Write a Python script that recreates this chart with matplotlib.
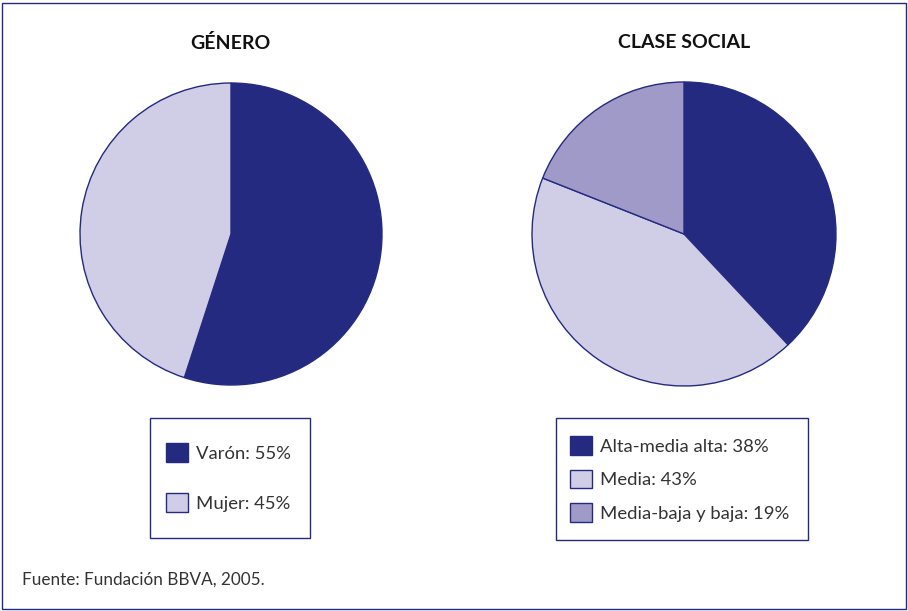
import matplotlib.pyplot as plt
from matplotlib.patches import Rectangle

plt.rcParams['font.family'] = ['Lato', 'DejaVu Sans']

# data
genero_labels = ['Varón', 'Mujer']
genero_values = [55, 45]
clase_labels = ['Alta-media alta', 'Media', 'Media-baja y baja']
clase_values = [38, 43, 19]

navy = '#232a80'
light = '#d0cde6'
mid = '#9f9ac8'
txt = '#333333'

W, H = 908, 611
fig = plt.figure(figsize=(W / 100, H / 100), dpi=100)


def px_axes(cx, cy, r):
    return fig.add_axes([(cx - r) / W, 1 - (cy + r) / H, 2 * r / W, 2 * r / H])


def px_box(x0, y0, x1, y1):
    fig.add_artist(Rectangle((x0 / W, 1 - y1 / H), (x1 - x0) / W, (y1 - y0) / H,
                             transform=fig.transFigure, fill=False,
                             edgecolor=navy, linewidth=1.0))


def draw_pie(ax, values, colors):
    wedges, _ = ax.pie(values, colors=colors, startangle=90, counterclock=False,
                       wedgeprops=dict(edgecolor=navy, linewidth=1.0))
    ax.set_xlim(-1, 1)
    ax.set_ylim(-1, 1)
    ax.set_aspect('equal')
    return wedges


ax1 = px_axes(231, 234, 151)
w1 = draw_pie(ax1, genero_values, [navy, light])
ax2 = px_axes(684, 234, 152)
w2 = draw_pie(ax2, clase_values, [navy, light, mid])

fig.text(230 / W, 1 - 43 / H, 'GÉNERO', ha='center', va='center',
         fontsize=14, fontweight='bold', color='#111111')
fig.text(684 / W, 1 - 43 / H, 'CLASE SOCIAL', ha='center', va='center',
         fontsize=14, fontweight='bold', color='#111111')

fs = 13.3
leg_kw = dict(loc='upper left', fontsize=fs, frameon=False,
              handlelength=1.19, handleheight=1.19, handletextpad=0.45,
              borderaxespad=0, borderpad=0, labelcolor=txt)

fig.legend(w1, ['{}: {}%'.format(l, v) for l, v in zip(genero_labels, genero_values)],
           bbox_to_anchor=(166 / W, 1 - 443 / H), labelspacing=1.7, **leg_kw)
fig.legend(w2, ['{}: {}%'.format(l, v) for l, v in zip(clase_labels, clase_values)],
           bbox_to_anchor=(570 / W, 1 - 436 / H), labelspacing=0.8, **leg_kw)
px_box(150, 418, 310, 538)
px_box(556, 418, 808, 540)

fig.text(22 / W, 1 - 580 / H, 'Fuente: Fundación BBVA, 2005.', ha='left', va='center',
         fontsize=12.3, color=txt)

fig.add_artist(Rectangle((2 / W, 2 / H), 904 / W, 606 / H, transform=fig.transFigure,
                         fill=False, edgecolor=navy, linewidth=1.0))

fig.savefig('out.png', dpi=100)
